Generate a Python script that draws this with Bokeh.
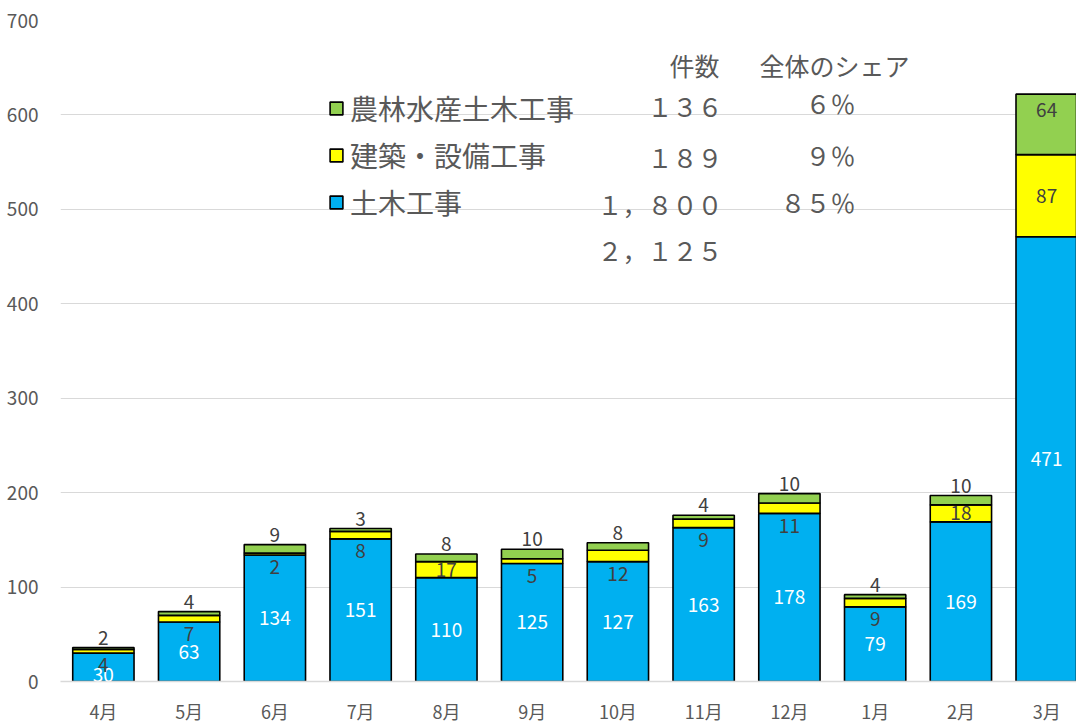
from bokeh.plotting import figure
from bokeh.models import (ColumnDataSource, Range1d, FixedTicker, LabelSet,
                          Legend, LegendItem, Label)
from bokeh.core.properties import value
from bokeh.embed import file_html
from bokeh.resources import INLINE

# ---- data ----
months = ["4月", "5月", "6月", "7月", "8月", "9月", "10月", "11月", "12月", "1月", "2月", "3月"]
civil = [30, 63, 134, 151, 110, 125, 127, 163, 178, 79, 169, 471]      # 土木工事
building = [4, 7, 2, 8, 17, 5, 12, 9, 11, 9, 18, 87]                   # 建築・設備工事
agri = [2, 4, 9, 3, 8, 10, 8, 4, 10, 4, 10, 64]                        # 農林水産土木工事
y_ticks = [0, 100, 200, 300, 400, 500, 600, 700]

legend_names = ["農林水産土木工事", "建築・設備工事", "土木工事"]
header_texts = ["件数", "全体のシェア"]
count_texts = ["１３６", "１８９", "１，８００"]
total_text = "２，１２５"
share_texts = ["６％", "９％", "８５％"]

# ---- styles ----
C_CIVIL, C_BUILD, C_AGRI = "#00B0F0", "#FFFF00", "#92D050"
GRAY = "#595959"
DARK = "#404040"
FONT = "Noto Sans CJK JP"

x = [i + 0.5 for i in range(len(months))]
top = [c + b + a for c, b, a in zip(civil, building, agri)]
civil_ly = [min(c / 2, c - 23) for c in civil]
build_ly = [c + b / 2 if b >= 15 else c - 13 for c, b in zip(civil, building)]
agri_ly = [t + 10.5 if a < 30 else t - 17 for t, a in zip(top, agri)]

src = ColumnDataSource(dict(
    x=x, civil=civil, building=building, agri=agri,
    civil_t=[str(v) for v in civil], build_t=[str(v) for v in building],
    agri_t=[str(v) for v in agri],
    civil_ly=civil_ly, build_ly=build_ly, agri_ly=agri_ly,
))

p = figure(width=1076, height=726, x_range=Range1d(0, 11.848), y_range=Range1d(0, 700),
           output_backend="svg", toolbar_location=None,
           min_border_left=60, min_border_right=0, min_border_top=20, min_border_bottom=43)
p.outline_line_color = None
p.background_fill_color = "white"

rs = p.vbar_stack(["civil", "building", "agri"], x="x", width=0.715, source=src,
                  fill_color=[C_CIVIL, C_BUILD, C_AGRI], line_color="black", line_width=1.6)

# axes
p.xaxis.ticker = FixedTicker(ticks=x)
p.xaxis.major_label_overrides = {xv: m for xv, m in zip(x, months)}
p.xaxis.axis_line_color = "#D9D9D9"
p.xaxis.axis_line_width = 1.5
p.xaxis.major_tick_line_color = None
p.xaxis.minor_tick_line_color = None
p.xaxis.major_label_standoff = 10
p.xaxis.major_label_text_font = FONT
p.xaxis.major_label_text_font_size = "18px"
p.xaxis.major_label_text_color = GRAY

p.yaxis.ticker = FixedTicker(ticks=y_ticks)
p.yaxis.axis_line_color = None
p.yaxis.major_tick_line_color = None
p.yaxis.minor_tick_line_color = None
p.yaxis.major_label_standoff = 16
p.yaxis.major_label_text_font = FONT
p.yaxis.major_label_text_font_size = "19px"
p.yaxis.major_label_text_color = GRAY

p.xgrid.visible = False
p.ygrid.ticker = FixedTicker(ticks=y_ticks)
p.ygrid.grid_line_color = "#D9D9D9"
p.ygrid.grid_line_width = 1.2

# data labels
for col, ycol, color in [("civil_t", "civil_ly", "white"),
                         ("build_t", "build_ly", DARK),
                         ("agri_t", "agri_ly", DARK)]:
    p.add_layout(LabelSet(x="x", y=ycol, text=col, source=src, text_align="center",
                          text_baseline="middle", text_color=color,
                          text_font=value(FONT), text_font_size="19px"))

# legend
legend = Legend(items=[LegendItem(label=legend_names[0], renderers=[rs[2]]),
                       LegendItem(label=legend_names[1], renderers=[rs[1]]),
                       LegendItem(label=legend_names[2], renderers=[rs[0]])],
                location=(268, 459), orientation="vertical",
                glyph_width=16, glyph_height=16, label_standoff=6,
                label_height=30, spacing=7, padding=0, margin=0,
                label_text_font=FONT, label_text_font_size="28px",
                label_text_color=GRAY, background_fill_alpha=0,
                border_line_alpha=0)
p.add_layout(legend)

# summary table (text box)
def dx(px):
    return (px - 60) / 85.75

def dy(py):
    return (683 - py) / 0.9471

def add_text(t, px, py, size="25px"):
    p.add_layout(Label(x=dx(px), y=dy(py), text=t, text_align="right",
                       text_baseline="middle", text_color=GRAY,
                       text_font=FONT, text_font_size=size))

add_text(header_texts[0], 719, 65)
add_text(header_texts[1], 909, 65)
for t, py in zip(count_texts, [106, 157, 204]):
    add_text(t, 722, py)
add_text(total_text, 722, 250)
for t, py in zip(share_texts, [103, 155, 202]):
    add_text(t, 855, py)

open("out.html", "w").write(file_html(p, INLINE))
